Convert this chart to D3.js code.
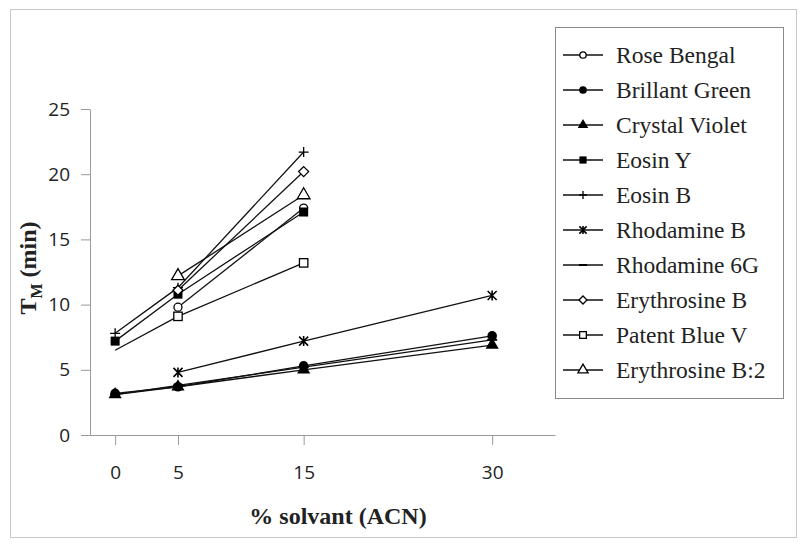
<!DOCTYPE html>
<html>
<head>
<meta charset="utf-8">
<script src="https://cdn.jsdelivr.net/npm/d3@7"></script>
<style>
  html, body { margin: 0; padding: 0; background: #fff; }
  svg { display: block; }
</style>
</head>
<body>
<svg id="chart" width="802" height="544"></svg>
<script>
// ---- data ----
const solventPct = [0, 5, 15, 30];
const xTicks = [0, 5, 15, 30];
const yTicks = [0, 5, 10, 15, 20, 25];
const seriesNames = ["Rose Bengal", "Brillant Green", "Crystal Violet", "Eosin Y", "Eosin B",
  "Rhodamine B", "Rhodamine 6G", "Erythrosine B", "Patent Blue V", "Erythrosine B:2"];
const roseBengal     = [null, 9.8, 17.4, null];
const brillantGreen  = [3.2, 3.7, 5.3, 7.6];
const crystalViolet  = [3.1, 3.7, 5.0, 6.9];
const eosinY         = [7.2, 10.8, 17.1, null];
const eosinB         = [7.8, 11.3, 21.7, null];
const rhodamineB     = [null, 4.8, 7.2, 10.7];
const rhodamine6G    = [3.1, 3.8, 5.2, 7.3];
const erythrosineB   = [null, 11.1, 20.2, null];
const patentBlueV    = [6.5, 9.1, 13.2, null];
const erythrosineB2  = [null, 12.2, 18.4, null];
const seriesValues = [roseBengal, brillantGreen, crystalViolet, eosinY, eosinB,
  rhodamineB, rhodamine6G, erythrosineB, patentBlueV, erythrosineB2];
// marker type per series (style)
const markerTypes = ["circleOpen", "circleFilled", "triangleFilled", "squareFilled", "plus",
  "star", "dash", "diamondOpen", "squareOpen", "triangleOpen"];
// points drawn without a marker in the original (series index, point index)
const unmarked = [[8, 0]];

const svg = d3.select("#chart");

// outer frame
svg.append("rect").attr("x", 10.5).attr("y", 9.5).attr("width", 786).attr("height", 528)
  .attr("fill", "#fff").attr("stroke", "#c8c8c8").attr("stroke-width", 1);

const x = d3.scaleLinear().domain([-2, 35]).range([90, 555]);
const y = d3.scaleLinear().domain([0, 25]).range([435, 109]);

const axisColor = "#9a9a9a";
const tickFont = "'Open Sans', 'Liberation Sans', sans-serif";

// y axis
const gy = svg.append("g").attr("transform", "translate(90,0)")
  .call(d3.axisLeft(y).tickValues(yTicks).tickSize(9).tickPadding(11).tickSizeOuter(0));
gy.select(".domain").attr("stroke", axisColor);
gy.selectAll(".tick line").attr("stroke", axisColor);
gy.selectAll(".tick text").attr("fill", "#222").style("font-family", tickFont).style("font-size", "19px");

// x axis
const gx = svg.append("g").attr("transform", "translate(0,435)")
  .call(d3.axisBottom(x).tickValues(xTicks).tickSize(10).tickPadding(21).tickSizeOuter(0));
gx.select(".domain").attr("stroke", axisColor);
gx.selectAll(".tick line").attr("stroke", axisColor);
gx.selectAll(".tick text").attr("fill", "#222").style("font-family", tickFont).style("font-size", "19px");

// axis titles
const serif = "'Liberation Serif', 'Times New Roman', serif";
svg.append("text").attr("x", 338).attr("y", 524).attr("text-anchor", "middle")
  .style("font-family", serif).style("font-weight", "bold").style("font-size", "24px")
  .attr("fill", "#222").text("% solvant (ACN)");

const yt = svg.append("text").attr("transform", "translate(36,268) rotate(-90)")
  .attr("text-anchor", "middle")
  .style("font-family", serif).style("font-weight", "bold").style("font-size", "24px")
  .attr("fill", "#222");
yt.append("tspan").text("T");
yt.append("tspan").attr("dy", 6).style("font-size", "16px").text("M");
yt.append("tspan").attr("dy", -6).text(" (min)");

// marker drawing
function drawMarker(g, type, cx, cy, s) {
  const k = s || 1;
  switch (type) {
    case "circleOpen":
      g.append("circle").attr("cx", cx).attr("cy", cy).attr("r", 4 * k)
        .attr("fill", "#fff").attr("stroke", "#000").attr("stroke-width", 1.3); break;
    case "circleFilled":
      g.append("circle").attr("cx", cx).attr("cy", cy).attr("r", 4.8 * k).attr("fill", "#000"); break;
    case "triangleFilled":
      g.append("path").attr("d", d3.symbol(d3.symbolTriangle, 75 * k * k)()).attr("transform", `translate(${cx},${cy})`)
        .attr("fill", "#000"); break;
    case "triangleOpen":
      g.append("path").attr("d", d3.symbol(d3.symbolTriangle, 70 * k * k)()).attr("transform", `translate(${cx},${cy})`)
        .attr("fill", "#fff").attr("stroke", "#000").attr("stroke-width", 1.3); break;
    case "squareFilled":
      g.append("rect").attr("x", cx - 4.5 * k).attr("y", cy - 4.5 * k).attr("width", 9 * k).attr("height", 9 * k).attr("fill", "#000"); break;
    case "squareOpen":
      g.append("rect").attr("x", cx - 4.2 * k).attr("y", cy - 4.2 * k).attr("width", 8.4 * k).attr("height", 8.4 * k)
        .attr("fill", "#fff").attr("stroke", "#000").attr("stroke-width", 1.3); break;
    case "diamondOpen":
      g.append("path").attr("d", `M${cx},${cy - 5 * k}L${cx + 5 * k},${cy}L${cx},${cy + 5 * k}L${cx - 5 * k},${cy}Z`)
        .attr("fill", "#fff").attr("stroke", "#000").attr("stroke-width", 1.3); break;
    case "plus":
      g.append("path").attr("d", `M${cx - 5 * k},${cy}H${cx + 5 * k}M${cx},${cy - 5 * k}V${cy + 5 * k}`)
        .attr("stroke", "#000").attr("stroke-width", 1.3); break;
    case "star":
      g.append("path").attr("d", `M${cx - 4.5 * k},${cy - 4.5 * k}L${cx + 4.5 * k},${cy + 4.5 * k}M${cx + 4.5 * k},${cy - 4.5 * k}L${cx - 4.5 * k},${cy + 4.5 * k}M${cx},${cy - 5 * k}V${cy + 5 * k}`)
        .attr("stroke", "#000").attr("stroke-width", 1.6); break;
    case "dash":
      g.append("path").attr("d", `M${cx - 5 * k},${cy}H${cx + 5 * k}`)
        .attr("stroke", "#000").attr("stroke-width", 2); break;
  }
}

const plot = svg.append("g");
const line = d3.line().defined(d => d.v != null).x(d => x(d.x)).y(d => y(d.v));

seriesValues.forEach((vals, si) => {
  const pts = vals.map((v, i) => ({ x: solventPct[i], v }));
  plot.append("path").datum(pts).attr("d", line)
    .attr("fill", "none").attr("stroke", "#111").attr("stroke-width", 1.3);
});
seriesValues.forEach((vals, si) => {
  const g = plot.append("g");
  vals.forEach((v, i) => {
    if (v == null) return;
    if (unmarked.some(u => u[0] === si && u[1] === i)) return;
    drawMarker(g, markerTypes[si], x(solventPct[i]), y(v), 1);
  });
});

// legend
const lg = svg.append("g");
lg.append("rect").attr("x", 555.5).attr("y", 27.5).attr("width", 228).attr("height", 371)
  .attr("fill", "#fff").attr("stroke", "#8a8a8a").attr("stroke-width", 1);
seriesNames.forEach((name, i) => {
  const cy = 55 + i * 35;
  lg.append("line").attr("x1", 563).attr("x2", 603).attr("y1", cy).attr("y2", cy)
    .attr("stroke", "#111").attr("stroke-width", 1.4);
  drawMarker(lg, markerTypes[i], 583, cy, 0.8);
  lg.append("text").attr("x", 616).attr("y", cy).attr("dy", "0.35em")
    .style("font-family", serif).style("font-size", "23.5px").attr("fill", "#222").text(name);
});
</script>
</body>
</html>
